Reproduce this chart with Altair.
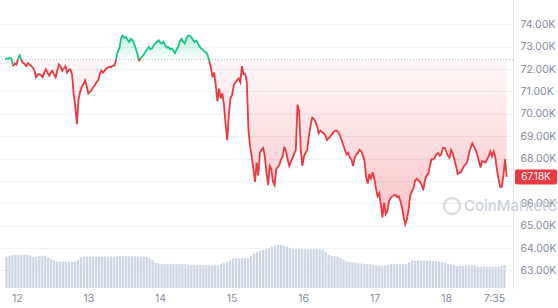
import altair as alt
import pandas as pd

# ---- data (prices in thousands of USD) ----
price_k = [
    72.42, 72.47, 72.45, 72.51, 72.45, 72.13, 72.25, 72.20, 72.45, 72.61, 72.40, 72.27,
    72.23, 72.13, 72.27, 72.20, 72.15, 72.06, 71.93, 71.63, 71.76, 71.77, 71.71, 71.63,
    71.84, 71.99, 71.84, 71.70, 71.84, 71.92, 71.76, 71.63, 71.93, 72.20, 72.10, 71.92,
    72.02, 72.13, 71.84, 71.97, 71.99, 71.77, 70.91, 70.33, 69.54, 70.64, 70.98, 71.20,
    71.33, 71.49, 71.24, 70.91, 70.98, 71.05, 71.20, 71.28, 71.41, 71.50, 71.76, 71.93,
    71.84, 71.93, 72.02, 72.06, 72.10, 72.09, 72.15, 72.15, 72.44, 72.79, 72.92, 73.35,
    73.50, 73.40, 73.43, 73.31, 73.21, 73.35, 73.28, 73.14, 72.92, 72.71, 72.35, 72.49,
    72.56, 72.66, 72.78, 72.88, 72.99, 72.88, 72.92, 73.05, 73.14, 73.22, 73.28, 73.18,
    73.14, 73.22, 73.06, 72.96, 72.99, 72.88, 72.92, 72.84, 72.71, 72.88, 72.99, 73.22,
    73.35, 73.22, 73.14, 73.35, 73.50, 73.48, 73.43, 73.31, 73.21, 73.27, 73.14, 73.01,
    72.92, 72.88, 72.78, 72.75, 72.62, 72.36, 72.06, 71.63, 71.84, 71.27, 70.55, 71.12,
    70.69, 70.91, 70.41, 69.54, 68.82, 69.97, 70.69, 70.84, 71.27, 71.41, 71.49, 71.58,
    71.41, 72.13, 71.77, 71.77, 71.41, 69.25, 68.53, 68.10, 67.53, 66.96, 67.82, 67.24,
    68.25, 68.39, 68.47, 68.10, 67.39, 66.81, 67.67, 67.53, 66.96, 66.81, 67.53, 67.62,
    67.74, 67.96, 68.10, 68.53, 68.32, 67.96, 67.67, 67.87, 68.03, 68.22, 68.39, 70.41,
    70.12, 68.39, 67.67, 68.10, 68.26, 68.39, 69.00, 69.47, 69.83, 69.77, 69.64, 69.43,
    69.13, 69.25, 69.18, 69.13, 69.04, 68.82, 68.91, 68.97, 69.08, 69.18, 69.25, 69.25,
    69.17, 69.04, 68.82, 68.61, 68.39, 68.18, 68.26, 68.03, 67.96, 67.67, 68.03, 68.18,
    68.25, 68.39, 68.32, 68.13, 67.89, 67.17, 66.88, 67.31, 67.10, 67.39, 67.10, 66.67,
    66.31, 66.45, 65.95, 65.37, 66.02, 65.51, 65.66, 66.09, 66.24, 66.31, 66.36, 66.38,
    66.28, 66.31, 66.09, 65.80, 65.37, 65.07, 65.29, 65.72, 66.36, 66.52, 66.67, 67.01,
    67.10, 67.02, 66.96, 66.81, 66.59, 67.02, 67.24, 67.31, 67.67, 67.96, 67.96, 68.03,
    68.18, 68.25, 68.13, 68.18, 68.48, 68.48, 68.32, 68.13, 68.03, 68.39, 68.25, 67.96,
    67.67, 67.31, 67.36, 67.39, 67.53, 67.67, 67.74, 67.89, 68.25, 68.48, 68.68, 68.53,
    68.39, 68.18, 67.89, 67.60, 67.89, 67.87, 67.82, 67.96, 68.10, 68.32, 68.10, 68.32,
    68.10, 67.53, 67.10, 66.74, 66.74, 67.24, 67.96, 67.18,
]

# hourly volume (arbitrary units, billions)
volume_b = [
    10.9, 11.2, 11.4, 11.5, 11.5, 11.5, 11.5, 11.5, 11.3, 10.9, 10.9, 11.1, 11.2, 11.2, 10.6, 10.0, 9.6, 9.2, 9.1, 9.1, 9.1, 9.1, 9.1, 9.2,
    9.9, 10.7, 10.9, 10.9, 11.0, 10.9, 10.9, 10.8, 10.9, 10.9, 11.0, 11.0, 10.9, 11.0, 11.1, 11.1, 11.0, 11.0, 11.1, 11.0, 11.0, 10.9, 11.0, 10.8,
    10.3, 9.6, 8.8, 8.5, 8.3, 8.3, 8.4, 8.3, 8.3, 8.2, 8.3, 8.3, 8.3, 8.2, 8.1, 7.9, 7.9, 8.0, 7.9, 7.9, 7.8, 7.9, 7.9, 7.9,
    8.4, 8.8, 9.1, 9.6, 10.2, 10.3, 10.3, 10.3, 10.3, 10.4, 11.2, 12.0, 12.4, 12.8, 13.2, 13.4, 13.8, 14.4, 14.7, 14.9, 14.9, 14.7, 14.4, 13.9,
    13.5, 13.5, 13.6, 13.5, 13.5, 13.4, 13.5, 13.5, 13.6, 13.5, 13.4, 12.4, 11.5, 11.2, 11.0, 10.9, 10.4, 9.8, 9.1, 9.0, 8.9, 8.8, 8.6, 8.5,
    8.4, 8.3, 8.3, 8.1, 7.9, 7.8, 7.6, 7.8, 8.0, 8.3, 8.3, 8.4, 8.3, 8.3, 8.3, 8.9, 9.5, 9.5, 9.6, 9.5, 9.5, 9.5, 9.5, 9.4,
    9.3, 9.2, 9.0, 8.7, 8.4, 8.2, 7.9, 7.6, 7.7, 7.8, 7.8, 7.8, 7.9, 7.8, 7.5, 7.4, 7.4, 7.4, 7.4, 7.4, 7.4, 7.4, 7.6, 8.0,
]

base_price = 72.42          # opening price of the window (dotted reference line)
last_price = 67.18
last_label = "67.18K"
y_ticks = [63, 64, 65, 66, 67, 68, 69, 70, 71, 72, 73, 74]
hidden_tick = 67            # covered by the last-price badge in the reference
day_labels = ["12", "13", "14", "15", "16", "17", "18"]
end_label = "7:35"

# ---- time axis (hours since window start, 20:03 on the 11th) ----
start_hour_of_day = 20.055
step_h = 0.5479                      # ~33 minutes between price samples
first_midnight = 24 - start_hour_of_day
end_hour = first_midnight + 6 * 24 + 19 + 35 / 60
x_max = 168.66

hours = [k * step_h for k in range(len(price_k))]
tick_vals = [first_midnight + 24 * i for i in range(len(day_labels))] + [end_hour]
tick_labels = day_labels + [end_label]

label_expr = "''"
for v, lab in reversed(list(zip(tick_vals, tick_labels))):
    label_expr = f"abs(datum.value - {v:.3f}) < 0.5 ? '{lab}' : ({label_expr})"

W, H = 513, 288
GREEN = "#16c784"
RED = "#ea3943"
GREY = "#858ca2"
FONT = "Inter"

df = pd.DataFrame({"h": hours, "p": price_k})
df["base"] = base_price
df["hi"] = df["p"].clip(lower=base_price)
df["lo"] = df["p"].clip(upper=base_price)

# line split into up/down runs
rows = []
seg = 0
prev = None
for h, p in zip(hours, price_k):
    d = "up" if p >= base_price else "down"
    if prev is not None and d != prev:
        rows.append({"h": h, "p": p, "seg": seg, "dir": prev})
        seg += 1
    rows.append({"h": h, "p": p, "seg": seg, "dir": d})
    prev = d
line_df = pd.DataFrame(rows)

vol_df = pd.DataFrame({"h": [i + 0.5 for i in range(len(volume_b))], "v": volume_b})

xscale = alt.Scale(domain=[0, x_max], nice=False, zero=False)
yscale = alt.Scale(domain=[62.44, 74.86], nice=False, zero=False)

xaxis = alt.Axis(
    values=tick_vals, labelExpr=label_expr, title=None, grid=False, domain=False, ticks=False,
    labelColor=GREY, labelFont=FONT, labelFontSize=10.5, labelPadding=5,
    labelOverlap=False, labelFlush=False,
    labelAlign=alt.expr(f"datum.value > {end_hour - 1:.2f} ? 'right' : 'center'"),
)
yaxis = alt.Axis(
    orient="right", values=y_ticks,
    labelExpr=f"datum.value == {hidden_tick} ? '' : format(datum.value, '.2f') + 'K'", title=None,
    grid=True, gridColor="#eff1f4", gridWidth=1, domain=True, domainColor="#e3e6eb",
    ticks=False, labelColor=GREY, labelFont=FONT, labelFontSize=10.5, labelPadding=7,
    labelAlign="left",
)

X = alt.X("h:Q", scale=xscale, axis=xaxis)

green_area = alt.Chart(df).mark_area(
    color=alt.Gradient(
        gradient="linear",
        stops=[alt.GradientStop(color="rgba(22,199,132,0.28)", offset=0),
               alt.GradientStop(color="rgba(22,199,132,0.02)", offset=1)],
        x1=0, x2=0, y1=0, y2=1,
    )
).encode(x=X, y=alt.Y("hi:Q", scale=yscale, axis=yaxis), y2="base:Q")

red_area = alt.Chart(df).mark_area(
    color=alt.Gradient(
        gradient="linear",
        stops=[alt.GradientStop(color="rgba(234,57,67,0.03)", offset=0),
               alt.GradientStop(color="rgba(234,57,67,0.30)", offset=1)],
        x1=0, x2=0, y1=0, y2=1,
    )
).encode(x=X, y=alt.Y("lo:Q", scale=yscale, axis=yaxis), y2="base:Q")

base_rule = alt.Chart(pd.DataFrame({"b": [base_price]})).mark_rule(
    color="#b9bfcb", strokeDash=[1, 2], strokeWidth=1
).encode(y=alt.Y("b:Q", scale=yscale, axis=yaxis))

line = alt.Chart(line_df).mark_line(strokeWidth=1.8).encode(
    x=X,
    y=alt.Y("p:Q", scale=yscale, axis=yaxis),
    color=alt.Color("dir:N", scale=alt.Scale(domain=["up", "down"], range=[GREEN, RED]), legend=None),
    detail="seg:N",
)

badge_df = pd.DataFrame({"p": [last_price], "t": [last_label]})
badge = alt.Chart(badge_df).mark_bar(orient="horizontal", size=15, color=RED, cornerRadius=2).encode(
    y=alt.Y("p:Q", scale=yscale, axis=yaxis), x=alt.value(W + 2), x2=alt.value(W + 44)
)
badge_text = alt.Chart(badge_df).mark_text(
    color="white", font=FONT, fontSize=10, align="center", baseline="middle"
).encode(y=alt.Y("p:Q", scale=yscale, axis=yaxis), x=alt.value(W + 23), text="t:N")

wm_df = pd.DataFrame({"t": ["CoinMarketCap"]})
wm_text = alt.Chart(wm_df).mark_text(
    color="#cdd2db", font=FONT, fontSize=15, fontWeight=500, align="left", baseline="middle"
).encode(x=alt.value(464), y=alt.value(206), text="t:N")
wm_logo = alt.Chart(wm_df).mark_point(
    shape="circle", filled=False, size=260, strokeWidth=2.5, color="#cdd2db"
).encode(x=alt.value(452), y=alt.value(206))

price_layer = alt.layer(green_area, red_area, base_rule, wm_logo, wm_text, line, badge, badge_text)

volume = alt.Chart(vol_df).mark_bar(width=2.3, color="#cfd6e3").encode(
    x=X, y=alt.Y("v:Q", scale=alt.Scale(domain=[0, 100]), axis=None)
)

chart = alt.layer(volume, price_layer).resolve_scale(y="independent").properties(
    width=W, height=H, background="white",
    padding={"left": 0, "top": 0, "right": 45, "bottom": 20},
    autosize=alt.AutoSizeParams(type="none"),
).configure_view(stroke=None)

chart.save("out.html", embed_options={"renderer": "svg", "actions": False})
